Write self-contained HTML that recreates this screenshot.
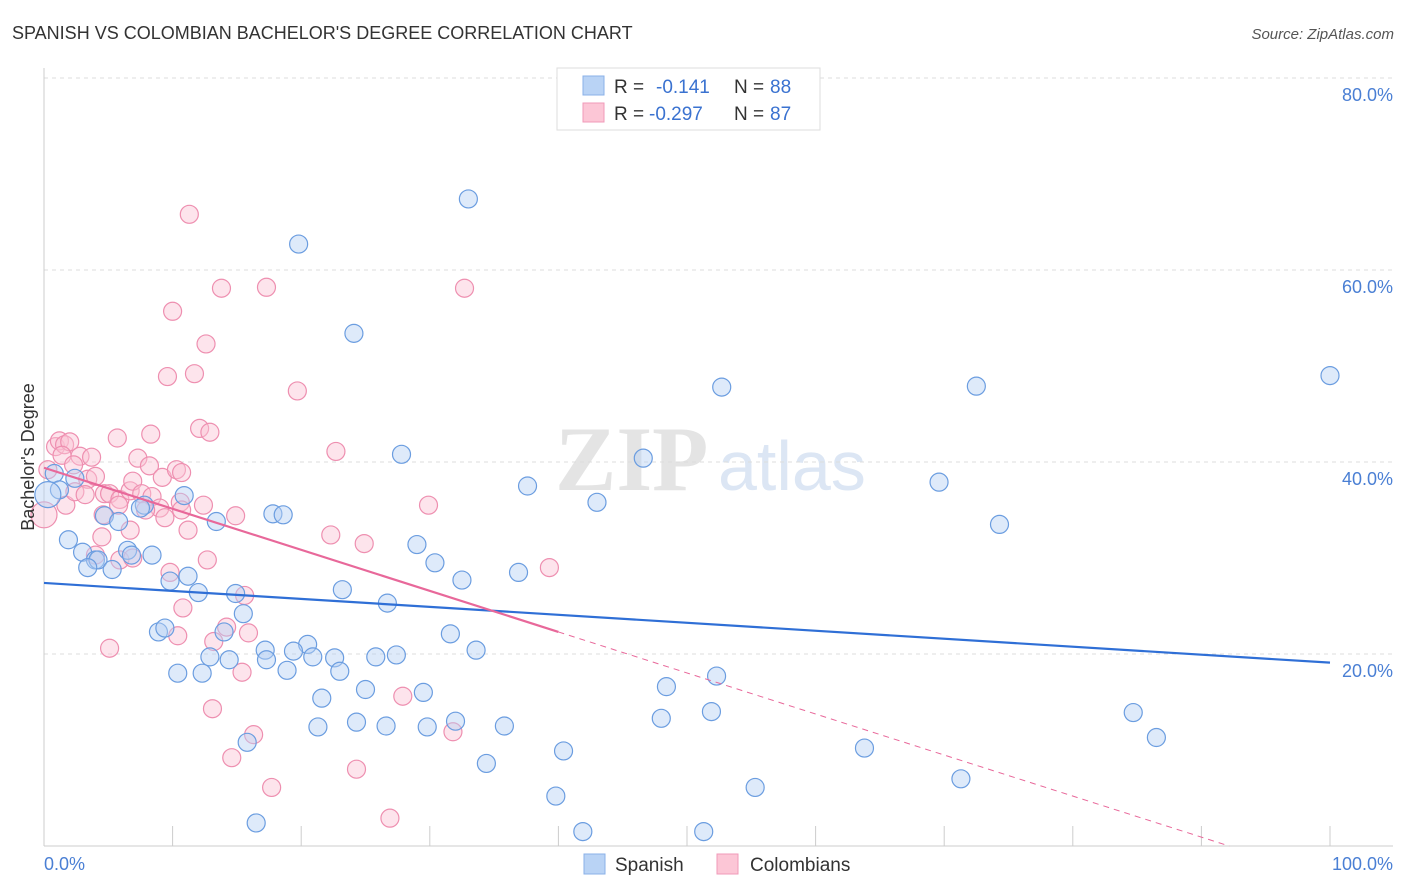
<!DOCTYPE html>
<html><head><meta charset="utf-8"><style>
body{margin:0;background:#fff;font-family:"Liberation Sans",sans-serif;}
svg{display:block}
</style></head><body>
<svg id="chart" width="1406" height="892" xmlns="http://www.w3.org/2000/svg">
<text x="12" y="39" font-size="18" fill="#333">SPANISH VS COLOMBIAN BACHELOR'S DEGREE CORRELATION CHART</text>
<text x="1394" y="39" font-size="15" fill="#555" font-style="italic" text-anchor="end">Source: ZipAtlas.com</text>
<g>
<text x="555" y="490" font-size="92" fill="#e4e4e4" font-family="Liberation Serif" font-weight="bold">ZIP</text>
<text x="718" y="490" font-size="70" fill="#dce6f4">atlas</text>
</g>
<g id="grid"></g>
<g id="marks"></g>
<text transform="translate(34,457) rotate(-90)" font-size="18" fill="#333" text-anchor="middle">Bachelor's Degree</text>
<text x="44" y="870" font-size="18" fill="#4a7fd4">0.0%</text>
<text x="1393" y="870" font-size="18" fill="#4a7fd4" text-anchor="end">100.0%</text>
<g>
<rect x="557" y="68" width="263" height="62" fill="#fff" stroke="#ddd"/>
<rect x="583" y="76" width="21" height="19" fill="#b9d3f5" stroke="#8ab0e8"/>
<rect x="583" y="103" width="21" height="19" fill="#fcc6d6" stroke="#f09ab8"/>
<text x="614" y="93" font-size="19" fill="#333">R = </text><text x="656" y="93" font-size="19" fill="#3a72d0">-0.141</text>
<text x="734" y="93" font-size="19" fill="#333">N = </text><text x="770" y="93" font-size="19" fill="#3a72d0">88</text>
<text x="614" y="120" font-size="19" fill="#333">R = </text><text x="649" y="120" font-size="19" fill="#3a72d0">-0.297</text>
<text x="734" y="120" font-size="19" fill="#333">N = </text><text x="770" y="120" font-size="19" fill="#3a72d0">87</text>
</g>
<g>
<rect x="584" y="854" width="21" height="20" fill="#b9d3f5" stroke="#8ab0e8"/>
<text x="615" y="871" font-size="19" fill="#333">Spanish</text>
<rect x="717" y="854" width="21" height="20" fill="#fcc6d6" stroke="#f09ab8"/>
<text x="750" y="871" font-size="19" fill="#333">Colombians</text>
</g>
</svg>
<script>
const yTicks=[20,40,60,80];
const yTickLabels=["20.0%","40.0%","60.0%","80.0%"];
const xTicks=[10,20,30,40,50,60,70,80,90,100];
const spanishX=[33.0,19.8,24.1,100,52.7,72.5,27.8,46.6,37.6,69.6,43.0,74.3,0.8,1.2,0.3,2.4,4.7,5.8,7.8,7.5,10.9,13.4,17.8,18.6,1.9,3.0,4.0,4.2,3.4,5.3,6.5,6.8,8.4,9.8,11.2,12.0,14.9,15.5,23.2,26.7,29.0,30.4,32.5,36.9,8.9,9.4,14.0,17.2,17.3,12.9,14.4,10.4,12.3,20.5,19.4,20.9,22.6,23.0,25.8,27.4,18.9,31.6,33.6,21.6,25.0,29.5,24.3,21.3,26.6,29.8,32.0,35.8,48.4,52.3,48.0,51.9,63.8,84.7,86.5,15.8,40.4,34.4,39.8,55.3,71.3,16.5,41.9,51.3];
const spanishY=[67.4,62.7,53.4,49.0,47.8,47.9,40.8,40.4,37.5,37.9,35.8,33.5,38.8,37.1,36.6,38.3,34.4,33.8,35.5,35.2,36.5,33.8,34.6,34.5,31.9,30.6,29.8,29.8,29.0,28.8,30.8,30.3,30.3,27.6,28.1,26.4,26.3,24.2,26.7,25.3,31.4,29.5,27.7,28.5,22.3,22.7,22.3,20.4,19.4,19.7,19.4,18.0,18.0,21.0,20.3,19.7,19.6,18.2,19.7,19.9,18.3,22.1,20.4,15.4,16.3,16.0,12.9,12.4,12.5,12.4,13.0,12.5,16.6,17.7,13.3,14.0,10.2,13.9,11.3,10.8,9.9,8.6,5.2,6.1,7.0,2.4,1.5,1.5];
const colombianX=[11.3,13.8,17.3,32.7,10.0,12.6,9.6,11.7,19.7,12.1,12.9,5.7,8.3,0.9,1.2,1.6,2.0,1.4,2.8,3.7,7.3,8.2,9.2,10.3,10.7,22.7,0.3,2.3,3.4,4.0,4.7,5.1,5.9,6.7,6.9,7.6,8.4,9.0,9.4,10.6,10.7,12.4,14.9,29.9,1.7,2.4,3.2,4.6,5.8,6.7,7.9,11.2,22.3,24.9,4.5,4.0,5.9,6.9,12.7,9.8,10.8,15.6,15.9,10.4,13.2,14.2,39.3,5.1,15.4,27.9,13.1,31.8,16.3,14.6,24.3,17.7,26.9,0];
const colombianY=[65.8,58.1,58.2,58.1,55.7,52.3,48.9,49.2,47.4,43.5,43.1,42.5,42.9,41.6,42.2,41.8,42.1,40.7,40.6,40.5,40.4,39.6,38.4,39.2,38.9,41.1,39.2,39.7,38.2,38.5,36.7,36.7,36.1,37.0,38.0,36.7,36.4,35.2,34.2,35.8,35.0,35.5,34.4,35.5,35.5,36.9,36.6,34.5,35.5,32.9,35.0,32.9,32.4,31.5,32.2,30.3,29.8,30.0,29.8,28.5,24.8,26.1,22.2,21.9,21.3,22.8,29.0,20.6,18.1,15.6,14.3,11.9,11.6,9.2,8.0,6.1,2.9,34.5];
const spanishTrend=[27.4,-0.083];
const colombianTrend=[39.4,-0.4275];
const ns="http://www.w3.org/2000/svg";
const X=v=>44+v*12.86, Y=v=>846-v*9.6;
function mk(t,a,p){const e=document.createElementNS(ns,t);for(const k in a)e.setAttribute(k,a[k]);p.appendChild(e);return e;}
const grid=document.getElementById('grid'),marks=document.getElementById('marks');
yTicks.forEach((t,i)=>{
 const l=mk('line',{x1:44,x2:1393,y1:Y(t),y2:Y(t),stroke:'#ddd','stroke-dasharray':'4,4'},grid);
 
 
 const tx=mk('text',{x:1393,y:Y(t)+23,'font-size':18,fill:'#4a7fd4','text-anchor':'end'},grid);
 tx.textContent=yTickLabels[i];
 
 
});
const ax=mk('line',{x1:44,x2:44,y1:68,y2:846,stroke:'#ccc'},grid);


const bx=mk('line',{x1:44,x2:1393,y1:846,y2:846,stroke:'#ccc'},grid);


xTicks.forEach(t=>{
 const l=mk('line',{x1:X(t),x2:X(t),y1:826,y2:846,stroke:'#ccc'},grid);
 
 
});
function pts(xs,ys,fill,stroke,name){
 xs.forEach((x,i)=>{
  const big=(name==='spanish-point'&&i===14)||(name==='colombian-point'&&i===xs.length-1);
  const c=mk('circle',{cx:X(x),cy:Y(ys[i]),r:big?13:9,fill:fill,'fill-opacity':0.45,stroke:stroke,'stroke-width':1.2},marks);
  
  
 });
}
pts(colombianX,colombianY,'#fbc3d4','#ee8fb0','colombian-point');
pts(spanishX,spanishY,'#b5d0f4','#6b9de0','spanish-point');
let l=mk('line',{x1:X(0),y1:Y(spanishTrend[0]),x2:X(100),y2:Y(spanishTrend[0]+100*spanishTrend[1]),stroke:'#2f6fd6','stroke-width':2.2},marks);


const xe=40, x0=-colombianTrend[0]/colombianTrend[1];
l=mk('line',{x1:X(0),y1:Y(colombianTrend[0]),x2:X(xe),y2:Y(colombianTrend[0]+xe*colombianTrend[1]),stroke:'#e8689a','stroke-width':2.2},marks);


l=mk('line',{x1:X(xe),y1:Y(colombianTrend[0]+xe*colombianTrend[1]),x2:X(x0),y2:Y(0),stroke:'#e8689a','stroke-width':1,'stroke-dasharray':'6,5'},marks);


</script>
</body></html>
